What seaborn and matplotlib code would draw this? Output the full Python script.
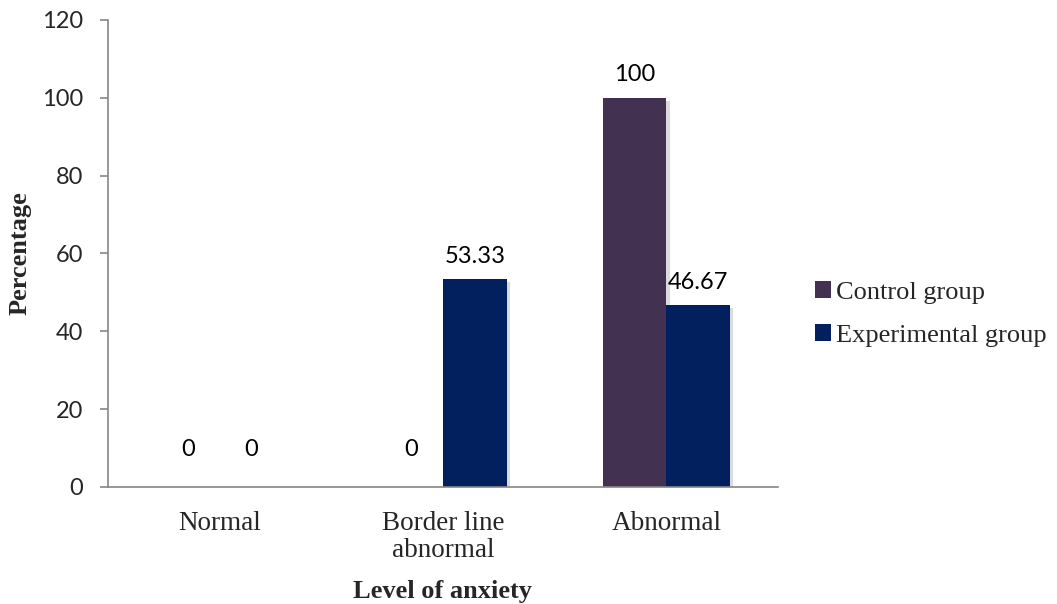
import matplotlib
matplotlib.use("Agg")
import matplotlib.pyplot as plt
import matplotlib.patheffects as pe
import seaborn as sns
import pandas as pd

# chart values
levels = ["Normal", "Border line\nabnormal", "Abnormal"]
groups = ["Control group", "Experimental group"]
control = [0, 0, 100]
experimental = [0, 53.33, 46.67]
colors = ["#433152", "#02205e"]

df = pd.DataFrame({
    "level": levels * 2,
    "group": [groups[0]] * 3 + [groups[1]] * 3,
    "pct": control + experimental,
})

sns.set_style("white")
plt.rcParams["font.family"] = ["Lato", "DejaVu Sans"]

fig = plt.figure(figsize=(10.57, 6.04), dpi=100)
ax = fig.add_axes([0.102, 0.194, 0.634, 0.773])

sns.barplot(data=df, x="level", y="pct", hue="group", order=levels,
            hue_order=groups, palette=colors, width=0.57, saturation=1,
            linewidth=0, ax=ax, legend=True)

shadow = [pe.SimplePatchShadow(offset=(2.5, -2), shadow_rgbFace="#999999", alpha=0.35), pe.Normal()]
for p in ax.patches:
    if p.get_height() > 0:
        p.set_path_effects(shadow)

for cont in ax.containers:
    labels = [f"{v:g}" for v in cont.datavalues]
    anns = ax.bar_label(cont, labels=labels, padding=9, fontsize=17, color="black")
    # zero labels sit a bit higher in the original
    for a, v in zip(anns, cont.datavalues):
        if v == 0:
            a.xyann = (0, 19)

ax.set_ylim(0, 120)
ax.set_xlim(-0.5, 2.5)
ax.set_yticks(range(0, 121, 20))
ax.tick_params(axis="y", labelsize=17, left=True, length=6, color="#868686", width=1.2, pad=12)
ax.tick_params(axis="x", bottom=False, pad=14)
for t in ax.get_xticklabels():
    t.set_fontfamily("Liberation Serif")
    t.set_fontsize(19.5)
    t.set_linespacing(1.1)

for s in ["top", "right"]:
    ax.spines[s].set_visible(False)
for s in ["left", "bottom"]:
    ax.spines[s].set_color("#868686")
    ax.spines[s].set_linewidth(1.2)

ax.set_xlabel("Level of anxiety", fontfamily="Liberation Serif", fontweight="bold", fontsize=19, labelpad=12)
ax.set_ylabel("Percentage", fontfamily="Liberation Serif", fontweight="bold", fontsize=19, labelpad=7)

ax.legend(loc="center left", bbox_to_anchor=(1.02, 0.37), frameon=False,
          prop={"family": "Liberation Serif", "size": 19},
          handlelength=0.6, handleheight=0.6, handletextpad=0.2, labelspacing=0.75)

fig.savefig("out.png", dpi=100)
